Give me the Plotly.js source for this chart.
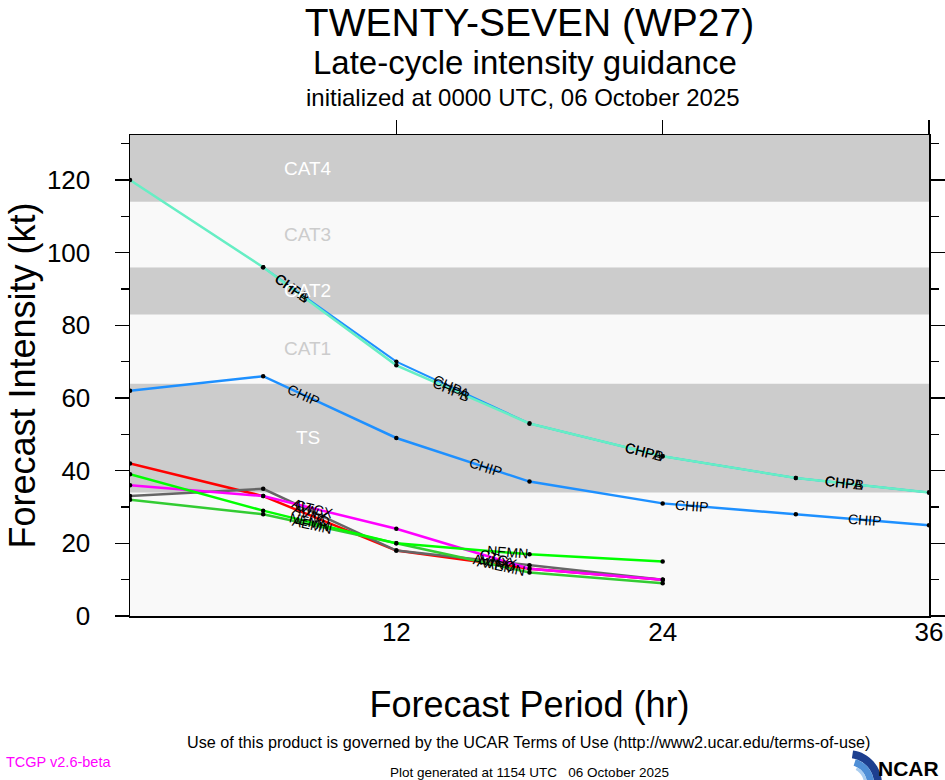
<!DOCTYPE html>
<html>
<head>
<meta charset="utf-8">
<script src="https://cdn.plot.ly/plotly-3.0.1.min.js"></script>
<style>html,body{margin:0;padding:0;background:#fff;}#chart{width:945px;height:780px;}</style>
</head>
<body>
<div id="chart"></div>
<script>
// ---------------- data ----------------
const hours = [0, 6, 12, 18, 24, 30, 36];
const hoursShort = [0, 6, 12, 18, 24];

const chpA = [null, 96, 70, 53, 44, 38, 34];  // blue, under teal
const chpB = [120, 96, 69, 53, 44, 38, 34];   // teal
const chip = [62, 66, 49, 37, 31, 28, 25];

const avno = [42, 33, 18, 13, 10];   // red
const avnx = [33, 35, 18, 14, 10];   // gray
const ctcx = [36, 33, 24, 13, 10];   // magenta
const aemn = [32, 28, 20, 12, 9];    // dark green
const nemn = [39, 29, 20, 17, 15];   // bright green

const xTickVals = [12, 24, 36];
const xTickText = ['12', '24', '36'];
const yTickVals = [0, 20, 40, 60, 80, 100, 120];

const bandBottoms = [0, 34, 64, 83, 96, 114];
const bandTops = [34, 64, 83, 96, 114, 132.4];
const bandNames = ['', 'TS', 'CAT1', 'CAT2', 'CAT3', 'CAT4'];
const bandGray = [false, true, false, true, false, true];

// ---------------- styling ----------------
const FONT = 'Liberation Sans, Arial, Helvetica, sans-serif';
const W = 945, H = 780;
const M = {l: 130, r: 16, t: 135, b: 164};
const plotW = W - M.l - M.r, plotH = H - M.t - M.b;
const xRange = [0, 36], yRange = [0, 132.4];
const kx = plotW / (xRange[1] - xRange[0]);
const ky = plotH / (yRange[1] - yRange[0]);

const series = [
  {name: 'CHPA', x: hours, y: chpA, color: '#1e90ff', w: 2, labelAt: [7.3, 14.5, 23.2, 32.2]},
  {name: 'CHPB', x: hours, y: chpB, color: '#66eec4', w: 2.5, labelAt: [7.3, 14.5, 23.2, 32.2]},
  {name: 'CHIP', x: hours, y: chip, color: '#1e90ff', w: 2.5, labelAt: [7.8, 16.0, 25.3, 33.1]},
  {name: 'AVNO', x: hoursShort, y: avno, color: '#ff0000', w: 2.5, labelAt: [8.2, 16.5]},
  {name: 'AVNX', x: hoursShort, y: avnx, color: '#666666', w: 2.5, labelAt: [8.1, 16.3]},
  {name: 'CTCX', x: hoursShort, y: ctcx, color: '#ff00ff', w: 2.5, labelAt: [8.3, 16.6]},
  {name: 'AEMN', x: hoursShort, y: aemn, color: '#33cc33', w: 2.5, labelAt: [8.2, 16.9]},
  {name: 'NEMN', x: hoursShort, y: nemn, color: '#00ff00', w: 2.5, labelAt: [8.1, 17.0]}
];

const traces = series.map(s => ({
  type: 'scatter', mode: 'lines+markers', x: s.x, y: s.y, name: s.name,
  line: {color: s.color, width: s.w},
  marker: {color: '#000', size: 4.5},
  hoverinfo: 'x+y+name', showlegend: false
}));
// carrier for the top tick axis
traces.push({type: 'scatter', mode: 'markers', x: [0], y: [0], xaxis: 'x2', yaxis: 'y',
  marker: {size: 1, opacity: 0}, hoverinfo: 'skip', showlegend: false});

function interp(xs, ys, h) {
  for (let i = 0; i < xs.length - 1; i++) {
    if (ys[i] == null || ys[i + 1] == null) continue;
    if (h >= xs[i] && h <= xs[i + 1]) {
      const t = (h - xs[i]) / (xs[i + 1] - xs[i]);
      const v = ys[i] + t * (ys[i + 1] - ys[i]);
      const ang = Math.atan2(-(ys[i + 1] - ys[i]) * ky, (xs[i + 1] - xs[i]) * kx) * 180 / Math.PI;
      return {v, ang};
    }
  }
  return null;
}

const annotations = [];
series.forEach(s => {
  s.labelAt.forEach(h => {
    const r = interp(s.x, s.y, h);
    if (!r) return;
    annotations.push({x: h, y: r.v, xref: 'x', yref: 'y', text: s.name, showarrow: false,
      textangle: r.ang, font: {family: FONT, size: 14, color: '#000'}});
  });
});

// bands
const shapes = [];
bandBottoms.forEach((b, i) => {
  shapes.push({type: 'rect', xref: 'x', yref: 'y', x0: xRange[0], x1: xRange[1], y0: b, y1: bandTops[i],
    fillcolor: bandGray[i] ? '#cccccc' : '#f9f9f9', line: {width: 0}, layer: 'below'});
  if (bandNames[i]) {
    annotations.push({x: 8, y: (b + bandTops[i]) / 2, xref: 'x', yref: 'y', text: bandNames[i],
      showarrow: false, font: {family: FONT, size: 19, color: bandGray[i] ? '#ffffff' : '#cccccc'}});
  }
});

// paper helpers (pixel -> paper)
const px = v => (v - M.l) / plotW;
const py = v => (H - M.b - v) / plotH;

function textAt(x, y, text, size, color, opts) {
  annotations.push(Object.assign({x: px(x), y: py(y), xref: 'paper', yref: 'paper', text: text,
    showarrow: false, xanchor: 'center', yanchor: 'middle',
    font: {family: FONT, size: size, color: color || '#000'}}, opts || {}));
}

textAt(525, 62, 'Late-cycle intensity guidance', 33);
textAt(523, 97, 'initialized at 0000 UTC, 06 October 2025', 24);
textAt(528, 742, 'Use of this product is governed by the UCAR Terms of Use (http://www2.ucar.edu/terms-of-use)', 16.2);
textAt(529, 772, 'Plot generated at 1154 UTC &nbsp; 06 October 2025', 13.5);
textAt(4, 762, 'TCGP v2.6-beta', 14.5, '#ff00ff', {xanchor: 'left'});
textAt(941, 768, '<b>NCAR</b>', 21, '#000', {xanchor: 'right'});

// NCAR swoosh
function pathOf(pts) {
  return 'M ' + pts.map(p => px(p[0]).toFixed(5) + ',' + py(p[1]).toFixed(5)).join(' L ') + ' Z';
}
function arcBand(cx, cy, r1, r2, a0, a1) {
  const pts = [];
  for (let a = a0; a <= a1 + 1e-9; a += (a1 - a0) / 16) pts.push([cx + r1 * Math.cos(a), cy + r1 * Math.sin(a)]);
  for (let a = a1; a >= a0 - 1e-9; a -= (a1 - a0) / 16) pts.push([cx + r2 * Math.cos(a), cy + r2 * Math.sin(a)]);
  return pathOf(pts);
}
shapes.push({type: 'path', xref: 'paper', yref: 'paper', path: arcBand(848, 784, 34, 26, -Math.PI / 2 + 0.15, -0.02),
  fillcolor: '#1d3f8f', line: {width: 0}});
shapes.push({type: 'path', xref: 'paper', yref: 'paper', path: arcBand(848, 784, 26, 19, -Math.PI / 2 + 0.3, -0.02),
  fillcolor: '#4f8fd6', line: {width: 0}});
shapes.push({type: 'path', xref: 'paper', yref: 'paper', path: arcBand(848, 784, 19, 16, -Math.PI / 2 + 0.5, -0.02),
  fillcolor: '#a9cdf0', line: {width: 0}});

const layout = {
  width: W, height: H,
  margin: M,
  paper_bgcolor: '#ffffff', plot_bgcolor: '#f9f9f9',
  font: {family: FONT, color: '#000'},
  title: {text: 'TWENTY-SEVEN (WP27)', font: {family: FONT, size: 39, color: '#000'},
    x: 0.5, xref: 'paper', y: 1 - 22 / H, yref: 'container', yanchor: 'middle'},
  xaxis: {range: xRange, tickvals: xTickVals, ticktext: xTickText, ticks: '',
    showline: true, linecolor: '#000', linewidth: 1.5, mirror: true, showgrid: false, zeroline: false,
    tickfont: {family: FONT, size: 26, color: '#000'}, ticklabelstandoff: -8,
    title: {text: 'Forecast Period (hr)', font: {family: FONT, size: 36, color: '#000'}, standoff: 46}},
  xaxis2: {range: xRange, overlaying: 'x', side: 'top', anchor: 'y', tickvals: xTickVals,
    ticks: 'outside', ticklen: 14, tickwidth: 1.5, tickcolor: '#000', showticklabels: false,
    showline: false, showgrid: false, zeroline: false},
  yaxis: {range: yRange, tickvals: yTickVals, ticks: 'outside', ticklen: 14, tickwidth: 1.5, tickcolor: '#000',
    minor: {tickvals: [10, 30, 50, 70, 90, 110, 130], ticks: 'outside', ticklen: 8, tickwidth: 1.5, tickcolor: '#000'},
    showline: true, linecolor: '#000', linewidth: 1.5, mirror: 'ticks', showgrid: false, zeroline: false,
    tickfont: {family: FONT, size: 26, color: '#000'}, ticklabelstandoff: 19,
    title: {text: 'Forecast Intensity (kt)', font: {family: FONT, size: 36, color: '#000'}, standoff: 0}},
  shapes: shapes,
  annotations: annotations,
  showlegend: false
};

Plotly.newPlot('chart', traces, layout, {displayModeBar: false, staticPlot: true});
</script>
</body>
</html>
